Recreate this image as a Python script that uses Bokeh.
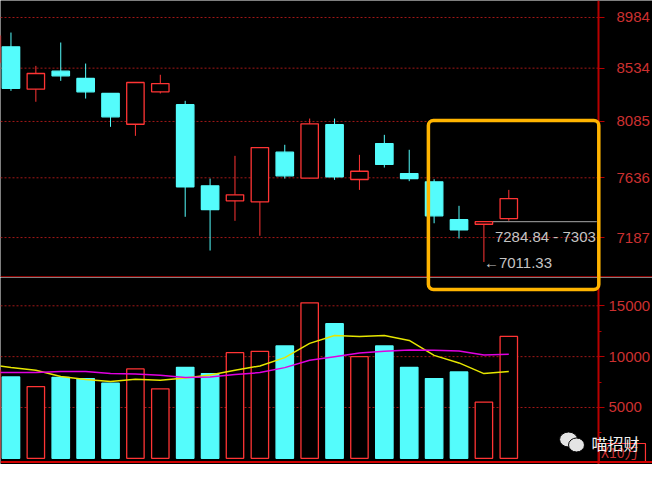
from bokeh.plotting import figure
from bokeh.layouts import column
from bokeh.models import (Range1d, FixedTicker, BasicTickFormatter, Span, Label,
                          ColumnDataSource, LinearAxis, LogAxis)
from bokeh.core.properties import value
from bokeh.embed import file_html
from bokeh.resources import INLINE

# ---------------- data ----------------
days = list(range(-1, 21))
opens = [8583, 8721, 8354, 8508, 8445, 8318, 8062, 8332, 8223, 7574, 7460,
         7452, 7837, 7633, 8058, 7623, 7906, 7669, 7605, 7318, 7284.84, 7327]
highs = [8860, 8848, 8554, 8759, 8574, 8320, 8412, 8477, 8256, 7630, 7808,
         7875, 7896, 8109, 8109, 7816, 7976, 7856, 7625, 7422, 7303.6, 7543]
lows = [8545, 8340, 8248, 8425, 8275, 8041, 7968, 8318, 7340, 7093, 7310,
        7200, 7630, 7632, 7620, 7543, 7716, 7610, 7292, 7180, 7011.33, 7310]
closes = [8819, 8362, 8488, 8468, 8332, 8123, 8411, 8402, 7567, 7394, 7505,
          7874, 7651, 8066, 7644, 7687, 7740, 7630, 7347, 7244, 7303.6, 7477]
volumes = [8696, 8010, 7059, 7971, 7843, 7382, 8794, 6833, 8951, 8333, 10392,
           10520, 11049, 15294, 13235, 10000, 11049, 8951, 7843, 8500, 5520, 11990]
ma5 = [9265, 8922, 8657, 8039, 7745, 7549, 7775, 7676, 7912, 8206, 8657,
       9088, 9902, 11304, 12088, 11990, 12088, 11598, 10127, 9382, 8333, 8529]
ma10 = [8431, 8431, 8431, 8529, 8529, 8333, 8304, 8167, 7941, 8010, 8235,
        8431, 8922, 9637, 10000, 10363, 10520, 10657, 10618, 10559, 10167, 10225]
price_ticks = [7187, 7636, 8085, 8534, 8984]
volume_ticks = [5000, 10000, 15000]
volume_minor_ticks = [2500, 7500, 12500]
unit_label = "X10万"
watermark = "喵招财"

# ---------------- styles / layout ----------------
RED = "#ff3434"
CYAN = "#54fcfc"
AXIS_RED = "#b80000"
LABEL_RED = "#cc3030"
GRID_RED = "#a01818"
ORANGE = "#ffb400"
GRAY = "#c4c4c4"
FONT = "Liberation Sans"
AXIS_X = 23.604          # x position (in candle units) of the price / volume axis

up = [c >= o for o, c in zip(opens, closes)]
src = ColumnDataSource(dict(
    x=days, h=highs, l=lows,
    top=[max(o, c) for o, c in zip(opens, closes)],
    bot=[min(o, c) for o, c in zip(opens, closes)],
    color=[RED if u else CYAN for u in up],
    fill=["black" if u else CYAN for u in up],
    vol=volumes,
))

xr = Range1d(-0.42, 25.773)


def add_axis(p, cls, ticks, standoff, minor=None):
    p.grid.visible = False
    # dotted grid lines from the left edge to the axis
    n = len(ticks)
    p.segment(x0=[xr.start] * n, y0=ticks, x1=[AXIS_X] * n, y1=ticks,
              line_color=GRID_RED, line_dash="2 2", line_width=1)
    ax = cls(fixed_location=AXIS_X)
    ax.ticker = FixedTicker(ticks=ticks, minor_ticks=minor or [])
    ax.formatter = BasicTickFormatter(use_scientific=False)
    ax.axis_line_color = AXIS_RED
    ax.axis_line_width = 2
    ax.major_tick_line_color = AXIS_RED
    ax.major_tick_out = 6
    ax.major_tick_in = 0
    ax.minor_tick_line_color = AXIS_RED
    ax.minor_tick_out = 3
    ax.minor_tick_in = 0
    ax.major_label_text_color = LABEL_RED
    ax.major_label_text_font = FONT
    ax.major_label_text_font_size = "15px"
    ax.major_label_standoff = standoff
    p.add_layout(ax, "right")


common = dict(width=652, x_range=xr, y_axis_location=None, x_axis_location=None,
              toolbar_location=None, output_backend="svg",
              background_fill_color="black", border_fill_color="black",
              outline_line_color=None, min_border=0)

# ---------------- price panel ----------------
top = figure(height=277, y_range=Range1d(6901.7, 9140.2), y_axis_type="log", **common)
add_axis(top, LogAxis, price_ticks, 12)

top.segment(x0="x", y0="h", x1="x", y1="l", line_color="color", line_width=1, source=src)
top.vbar(x="x", width=0.70, top="top", bottom="bot", fill_color="fill",
         line_color="color", line_width=1.3, source=src)

i = len(days) - 2  # annotated candle
top.segment(x0=[days[i] + 0.36], y0=[closes[i]], x1=[AXIS_X - 0.07], y1=[closes[i]],
            line_color="#a8a8a8", line_width=1)
top.text(x=[days[i]], y=[closes[i]], text=[f"{opens[i]:.2f} - {int(closes[i])}"],
         x_offset=11, y_offset=6, text_baseline="top", text_align="left",
         text_color=GRAY, text_font=value(FONT), text_font_size="15px")
top.text(x=[days[i]], y=[lows[i]], text=[f"\u2190{lows[i]:.2f}"],
         x_offset=0, y_offset=1, text_baseline="middle", text_align="left",
         text_color=GRAY, text_font=value(FONT), text_font_size="15px")

top.add_layout(Span(location=6905, dimension="width", line_color=AXIS_RED, line_width=1.5))

# highlight box (upper part)
top.quad(left=[16.77], right=[23.616], top=[8093], bottom=[6700],
         fill_color=None, line_color=ORANGE, line_width=3.5, border_radius=5,
         level="overlay")

# ---------------- volume panel ----------------
bot = figure(height=187, y_range=Range1d(-605, 17783), **common)
add_axis(bot, LinearAxis, volume_ticks, 4, volume_minor_ticks)

bot.vbar(x="x", width=0.70, top="vol", bottom=0, fill_color="fill",
         line_color="color", line_width=1.3, source=src)
bot.line(days, ma5, line_color="#e6e600", line_width=1.5)
bot.line(days, ma10, line_color="#e000e0", line_width=1.5)

bot.add_layout(Span(location=-359, dimension="width", line_color="#d00000", line_width=2))

# highlight box (lower part)
bot.quad(left=[16.77], right=[23.616], top=[25000], bottom=[16603],
         fill_color=None, line_color=ORANGE, line_width=3.5, border_radius=5,
         level="overlay")

# unit box "X10万"
bot.quad(left=[AXIS_X + 0.02], right=[25.49], top=[1460], bottom=[-380],
         fill_color=None, line_color=RED, line_width=1.2)
bot.text(x=[23.70], y=[575], text=[unit_label], text_baseline="middle", text_align="left",
         text_color=LABEL_RED, text_font=value("Noto Sans CJK SC"), text_font_size="14px")

# watermark icon + name
bot.ellipse(x=[22.40, 22.72], y=[1853, 1313], width=[0.72, 0.64], height=[1475, 1377],
            fill_color="#e4e4e4", line_color="black", line_width=1)
bot.add_layout(Label(x=23.32, y=1558, text=watermark, text_color="#f2f2f2",
                     text_font="Noto Sans CJK SC", text_font_size="16px",
                     text_baseline="middle"))

layout = column(top, bot, spacing=0)
open("out.html", "w").write(file_html(layout, INLINE))
